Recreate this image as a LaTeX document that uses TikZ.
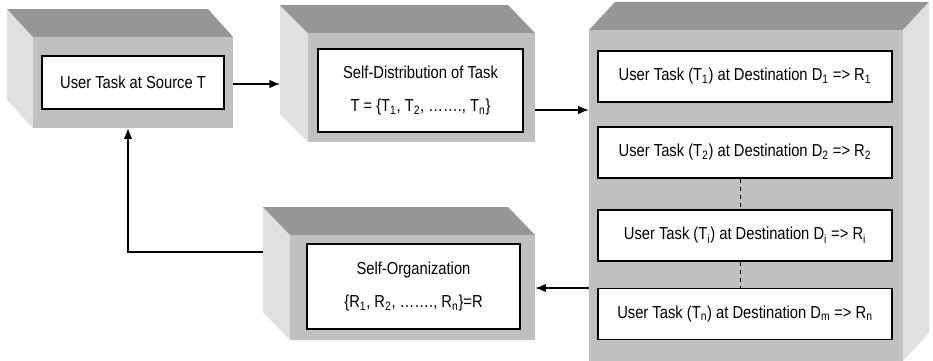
\documentclass[tikz,border=0pt]{standalone}
\usepackage{fontspec}
\setmainfont{Liberation Sans}[FakeStretch=0.85]
\usetikzlibrary{arrows.meta}

\definecolor{facegray}{RGB}{192,192,192}
\definecolor{topgray}{RGB}{150,150,150}
\definecolor{sidegray}{RGB}{224,224,224}

\tikzset{
  face/.style={fill=facegray, draw=none, inner sep=0pt},
  taskbox/.style={draw=black, fill=white, line width=0.8pt, inner sep=0pt,
    font=\fontsize{13}{15}\selectfont, align=center},
  flow/.style={line width=1.1pt, -{Latex[length=8pt,width=6.5pt]}},
}

\begin{document}
\begin{tikzpicture}[x=0.75pt,y=0.75pt,yscale=-1,xscale=1]
\useasboundingbox (0,0) rectangle (933,361);

% source block
\fill[sidegray] (7,9) -- (33,37) -- (33,128) -- (7,100) -- cycle;
\fill[topgray] (7,9) -- (208,9) -- (233,37) -- (33,37) -- cycle;
\node[face, minimum width=150pt, minimum height=68.25pt] (srcface) at (133,82.5) {};
\node[taskbox, minimum width=136.5pt, minimum height=39.75pt] (src) at (133,82.5) {User Task at Source T};

% distribution block
\fill[sidegray] (280,5) -- (308,33) -- (308,142) -- (280,114) -- cycle;
\fill[topgray] (280,5) -- (508,5) -- (535,33) -- (308,33) -- cycle;
\node[face, minimum width=170.25pt, minimum height=81.75pt] (distface) at (421.5,87.5) {};
\node[taskbox, minimum width=153.75pt, minimum height=62.25pt] (dist) at (420.5,90.5)
  {Self-Distribution of Task\\[10pt] T = \{T\textsubscript{1}, T\textsubscript{2}, ……., T\textsubscript{n}\}};

% destination block
\fill[topgray] (589,30) -- (615,2) -- (929,2) -- (903,30) -- cycle;
\fill[sidegray] (903,30) -- (929,2) -- (929,333) -- (903,361) -- cycle;
\node[face, minimum width=235.5pt, minimum height=248.25pt] (destface) at (746,195.5) {};
\node[taskbox, minimum width=220.5pt, minimum height=38.25pt] (dest1) at (745,76.5)
  {User Task (T\textsubscript{1}) at Destination D\textsubscript{1} => R\textsubscript{1}};
\node[taskbox, minimum width=220.5pt, minimum height=38.25pt] (dest2) at (745,152.5)
  {User Task (T\textsubscript{2}) at Destination D\textsubscript{2} => R\textsubscript{2}};
\node[taskbox, minimum width=220.5pt, minimum height=38.25pt] (dest3) at (745,235.5)
  {User Task (T\textsubscript{i}) at Destination D\textsubscript{i} => R\textsubscript{i}};
\node[taskbox, minimum width=220.5pt, minimum height=38.25pt] (dest4) at (745,314)
  {User Task (T\textsubscript{n}) at Destination D\textsubscript{m} => R\textsubscript{n}};
\draw[dashed] ([xshift=-3.75pt]dest2.south) -- ([xshift=-3.75pt]dest3.north);
\draw[dashed] ([xshift=-3.75pt]dest3.south) -- ([xshift=-3.75pt]dest4.north);

% organization block
\fill[sidegray] (263,207) -- (290,235) -- (290,340) -- (263,312) -- cycle;
\fill[topgray] (263,207) -- (508,207) -- (535,235) -- (290,235) -- cycle;
\node[face, minimum width=183.75pt, minimum height=78.75pt] (orgface) at (412.5,287.5) {};
\node[taskbox, minimum width=159.75pt, minimum height=63.75pt] (org) at (413.5,286.5)
  {Self-Organization\\[10pt] \{R\textsubscript{1}, R\textsubscript{2}, ……., R\textsubscript{n}\}=R};

% connectors
\coordinate (distin) at (280,84);
\coordinate (orgout) at (263,252);
\draw[flow] (srcface.east |- distin) -- (distin);
\draw[flow] (distface.east |- 0,110) -- (destface.west |- 0,110);
\draw[flow] (destface.west |- 0,288) -- (orgface.east |- 0,288);
\draw[flow] (orgout) -| ([xshift=-3.75pt]srcface.south);

\end{tikzpicture}
\end{document}
